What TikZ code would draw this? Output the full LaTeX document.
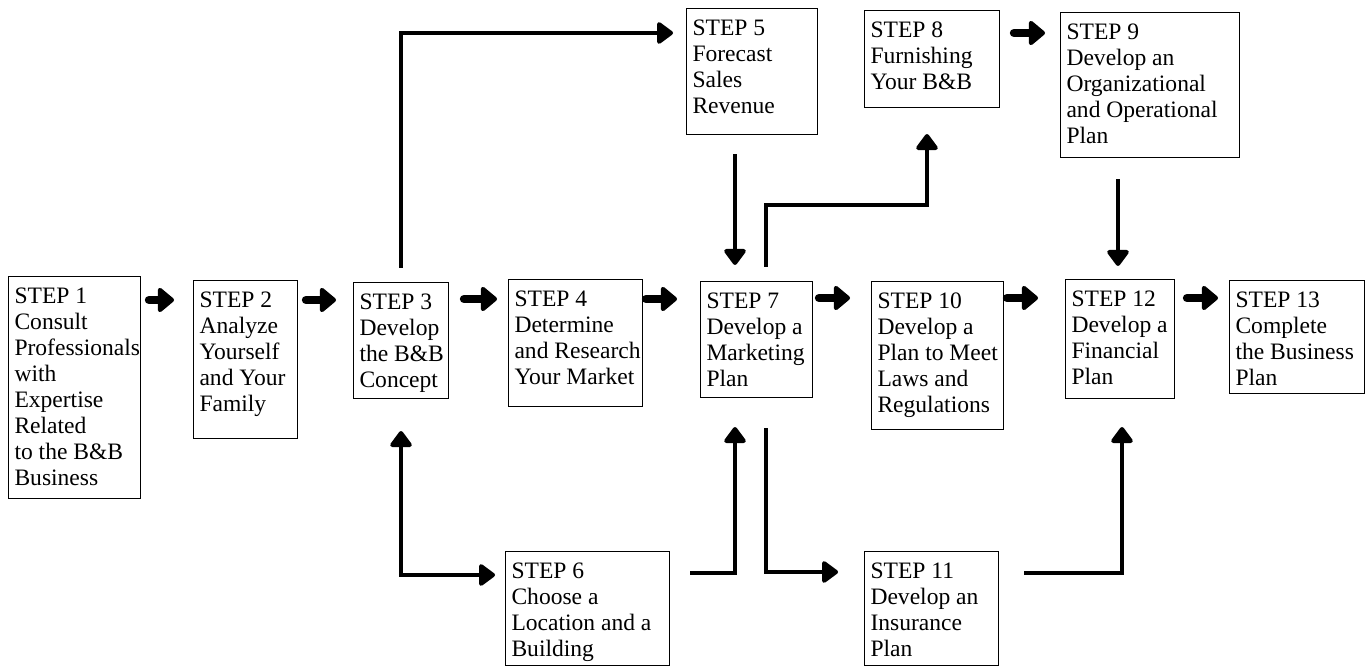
\documentclass[tikz,border=0pt]{standalone}
\usepackage{fontspec}
\setmainfont{Liberation Serif}
\usepackage{tikz}
\usetikzlibrary{arrows.meta}
\tikzset{
stepbox/.style={
  draw,
  line width=0.6pt,
  anchor=north west,
  inner xsep=0.12cm,
  inner ysep=0.18cm,
  font=\fontsize{13.4}{14.8}\selectfont
},
fat/.style={line width=4.8pt, line cap=round, -{Triangle[round,length=10pt,width=16pt]}},
link/.style={line width=2.4pt, -{Triangle[round,length=10pt,width=14pt]}},
}
% top aligned text of a step box: width, height, lines
\newcommand{\steptext}[3]{\parbox[t][#2][t]{#1}{\begin{tabular}[t]{@{}l@{}}#3\end{tabular}}}

\begin{document}
\begin{tikzpicture}[x=0.02cm,y=-0.02cm]
\useasboundingbox (0,0) rectangle (1370,668);
% the steps
\node[stepbox] (s1) at (8,276) {\steptext{2.40cm}{4.08cm}{STEP 1\\Consult\\Professionals\\with\\Expertise\\Related\\to the B\&B\\Business}};
\node[stepbox] (s2) at (193,280) {\steptext{1.84cm}{2.80cm}{STEP 2\\Analyze\\Yourself\\and Your\\Family}};
\node[stepbox] (s3) at (353,282) {\steptext{1.66cm}{1.96cm}{STEP 3\\Develop\\the B\&B\\Concept}};
\node[stepbox] (s4) at (508,279) {\steptext{2.44cm}{2.18cm}{STEP 4\\Determine\\and Research\\Your Market}};
\node[stepbox] (s5) at (686,8) {\steptext{2.38cm}{2.16cm}{STEP 5\\Forecast\\Sales\\Revenue}};
\node[stepbox] (s6) at (505,551) {\steptext{3.04cm}{1.92cm}{STEP 6\\Choose a\\Location and a\\Building}};
\node[stepbox] (s7) at (700,281) {\steptext{2.00cm}{1.96cm}{STEP 7\\Develop a\\Marketing\\Plan}};
\node[stepbox] (s8) at (864,10) {\steptext{2.46cm}{1.58cm}{STEP 8\\Furnishing\\Your B\&B}};
\node[stepbox] (s9) at (1060,12) {\steptext{3.34cm}{2.54cm}{STEP 9\\Develop an\\Organizational\\and Operational\\Plan}};
\node[stepbox] (s10) at (871,281) {\steptext{2.40cm}{2.60cm}{STEP 10\\Develop a\\Plan to Meet\\Laws and\\Regulations}};
\node[stepbox] (s11) at (864,551) {\steptext{2.44cm}{1.92cm}{STEP 11\\Develop an\\Insurance\\Plan}};
\node[stepbox] (s12) at (1065,279) {\steptext{1.94cm}{2.02cm}{STEP 12\\Develop a\\Financial\\Plan}};
\node[stepbox] (s13) at (1229,280) {\steptext{2.46cm}{1.90cm}{STEP 13\\Complete\\the Business\\Plan}};
% the short arrows
\foreach \a/\b/\dy/\sa/\sb in {s1/s2/0.48/0.16/0.38, s2/s3/0.40/0.16/0.34,
  s3/s4/0.34/0.30/0.22, s4/s7/0.40/0.06/0.46, s7/s10/0.34/0.12/0.42,
  s10/s12/0.34/0.06/0.54, s12/s13/0.38/0.24/0.22, s8/s9/0.46/0.28/0.30}
{
  \draw[fat, shorten <=\sa cm, shorten >=\sb cm]
    ([yshift=-\dy cm]\a.north east) -- ([yshift=-\dy cm]\a.north east -| \b.west);
}
% the long arrows
\draw[link, shorten <=0.28cm, shorten >=0.26cm] (s3.north) |- ([yshift=-0.5cm]s5.north west);
\draw[link, shorten <=0.38cm, shorten >=0.32cm] ([xshift=0.98cm]s5.south west) -- ([xshift=0.98cm]s5.south west |- s7.north);
\draw[link, shorten <=0.28cm, shorten >=0.52cm] ([xshift=1.32cm]s7.north west) -- ++(0,-76) -| ([xshift=1.26cm]s8.south west);
\draw[link, shorten <=0.42cm, shorten >=0.26cm] ([xshift=1.16cm]s9.south west) -- ([xshift=1.16cm]s9.south west |- s12.north);
\draw[link, {Triangle[round,length=10pt,width=14pt]}-{Triangle[round,length=10pt,width=14pt]}, shorten <=0.64cm, shorten >=0.2cm] (s3.south) |- ([yshift=-0.48cm]s6.north west);
\draw[link, shorten <=0.4cm, shorten >=0.58cm] ([yshift=-0.44cm]s6.north east) -| ([xshift=0.7cm]s7.south west);
\draw[link, shorten <=0.6cm, shorten >=0.52cm] ([xshift=1.32cm]s7.south west) |- ([yshift=-0.42cm]s11.north west);
\draw[link, shorten <=0.5cm, shorten >=0.56cm] ([yshift=-0.44cm]s11.north east) -| ([xshift=1.14cm]s12.south west);
\end{tikzpicture}
\end{document}
